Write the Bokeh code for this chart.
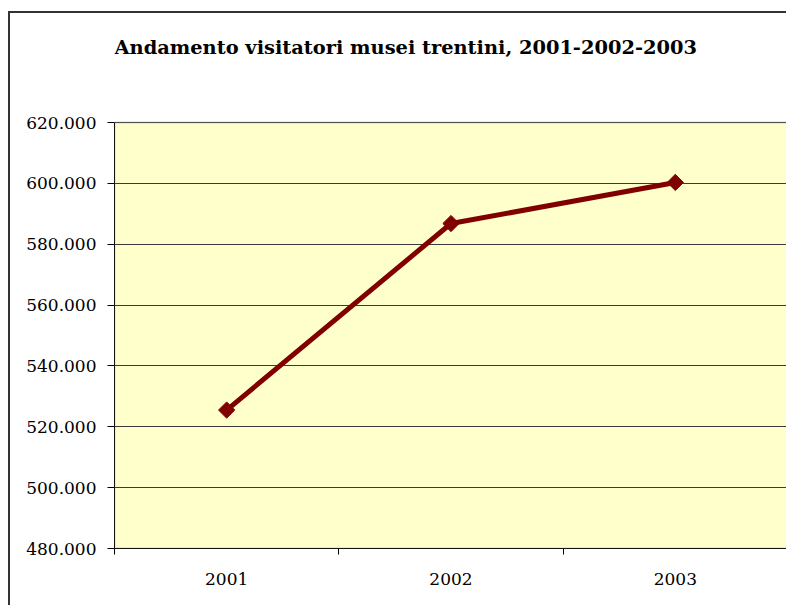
from bokeh.plotting import figure
from bokeh.models import FixedTicker, Range1d, Label, BoxAnnotation
from bokeh.embed import file_html
from bokeh.resources import INLINE
import math

years = ["2001", "2002", "2003"]
visitors = [525500, 586800, 600300]
y_ticks = [480000, 500000, 520000, 540000, 560000, 580000, 600000, 620000]
y_tick_labels = ["480.000", "500.000", "520.000", "540.000", "560.000", "580.000", "600.000", "620.000"]
title_text = "Andamento visitatori musei trentini, 2001-2002-2003"

FONT = "DejaVu Serif"

xs = [i + 0.5 for i in range(len(years))]

# layout (pixels)
W, H = 778, 594
BORDER_L, BORDER_R, BORDER_T, BORDER_B = 104, 1, 0, 59
FRAME_H = H - BORDER_T - BORDER_B          # whole frame height
PLOT_H = 426                               # height of the 480.000-620.000 plot area
TITLE_Y = 501                              # title baseline, px above frame bottom
y_lo, y_hi = y_ticks[0], y_ticks[-1]
y_top = y_lo + FRAME_H / PLOT_H * (y_hi - y_lo)

p = figure(width=W, height=H, output_backend="svg", toolbar_location=None,
           x_range=Range1d(0, len(years)), y_range=Range1d(y_lo, y_top),
           min_border_left=BORDER_L, min_border_right=BORDER_R,
           min_border_top=BORDER_T, min_border_bottom=BORDER_B)
p.margin = (11, 0, 0, 8)

p.background_fill_color = "#FFFFFF"
p.border_fill_color = "#FFFFFF"
p.outline_line_color = None

# plot area background and its border
p.add_layout(BoxAnnotation(bottom=y_lo, top=y_hi, fill_color="#FFFFCC", fill_alpha=1.0,
                           line_color=None, level="image"))
p.add_layout(BoxAnnotation(bottom=y_lo, top=y_hi, fill_color=None, fill_alpha=0,
                           line_color="#808080", line_width=2, level="guide"))

# title
p.add_layout(Label(x=0, y=TITLE_Y, x_units="screen", y_units="screen", text=title_text,
                   text_font=FONT, text_font_size="19.4px", text_font_style="bold",
                   text_color="#000000", text_baseline="alphabetic", text_align="left"))

# grid
p.xgrid.grid_line_color = None
p.ygrid.ticker = FixedTicker(ticks=y_ticks)
p.ygrid.grid_line_color = "#3a3a3a"
p.ygrid.grid_line_width = 1

# y axis
p.yaxis.ticker = FixedTicker(ticks=y_ticks)
p.yaxis.bounds = (y_lo, y_hi)
p.yaxis.major_label_overrides = {t: l for t, l in zip(y_ticks, y_tick_labels)}
p.yaxis.major_label_text_font = FONT
p.yaxis.major_label_text_font_size = "17px"
p.yaxis.major_label_text_color = "#000000"
p.yaxis.axis_line_color = "#000000"
p.yaxis.major_tick_line_color = "#000000"
p.yaxis.major_tick_out = 7
p.yaxis.major_tick_in = 0
p.yaxis.minor_tick_line_color = None
p.yaxis.major_label_standoff = 11

# x axis: labels at category centres, tick marks at boundaries
p.xaxis.ticker = FixedTicker(ticks=xs, minor_ticks=list(range(len(years) + 1)))
p.xaxis.major_label_overrides = {x: y for x, y in zip(xs, years)}
p.xaxis.major_label_text_font = FONT
p.xaxis.major_label_text_font_size = "17px"
p.xaxis.major_label_text_color = "#000000"
p.xaxis.axis_line_color = "#000000"
p.xaxis.major_tick_line_color = None
p.xaxis.minor_tick_line_color = "#000000"
p.xaxis.minor_tick_out = 6
p.xaxis.minor_tick_in = 0
p.xaxis.major_label_standoff = 18

p.line(xs, visitors, line_color="#800000", line_width=5)
p.scatter(xs, visitors, marker="square", size=11.5, angle=math.pi / 4,
          fill_color="#800000", line_color="#800000")

p.styles = {"border-left": "2px solid #333333", "border-top": "2px solid #333333"}

open("out.html", "w").write(file_html(p, INLINE))
